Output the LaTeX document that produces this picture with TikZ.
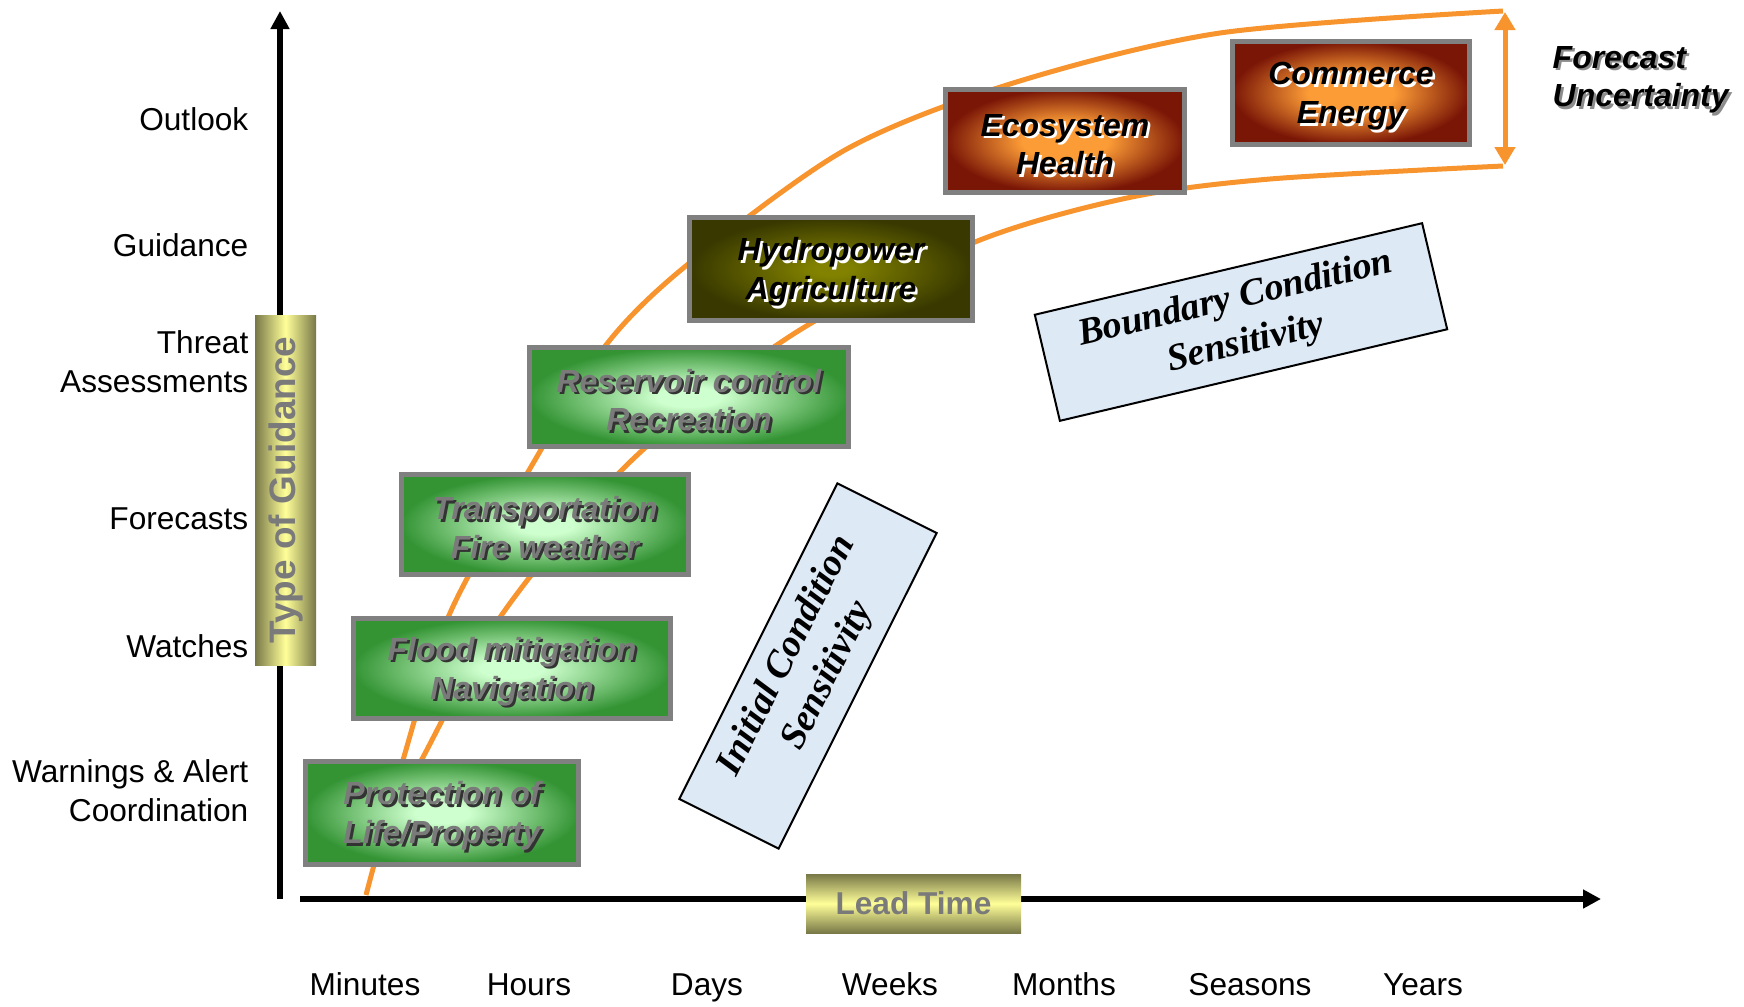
\documentclass[tikz,border=0pt]{standalone}
\usepackage{fontspec}
\setmainfont{Liberation Sans}
\newfontfamily\romanfont{Liberation Serif}
\usetikzlibrary{arrows.meta}
\usetikzlibrary{positioning}

\definecolor{curveorange}{RGB}{247,148,45}
\definecolor{framegray}{RGB}{128,128,128}
\definecolor{labelgray}{RGB}{122,122,122}
\definecolor{greenedge}{RGB}{52,148,52}
\definecolor{greencore}{RGB}{206,255,206}
\definecolor{oliveedge}{RGB}{56,56,0}
\definecolor{olivecore}{RGB}{130,130,0}
\definecolor{rustedge}{RGB}{122,22,6}
\definecolor{rustcore}{RGB}{252,156,54}
\definecolor{goldedge}{RGB}{120,120,72}
\definecolor{goldcore}{RGB}{255,255,153}
\definecolor{skyfill}{RGB}{222,233,246}

% glow from the middle out to the frame (path box = inner 50bp)
\pgfdeclareradialshading{greenglow}{\pgfpoint{0bp}{0bp}}{color(0bp)=(greencore); color(5bp)=(greencore); color(25bp)=(greenedge); color(50bp)=(greenedge)}
\pgfdeclareradialshading{oliveglow}{\pgfpoint{0bp}{0bp}}{color(0bp)=(olivecore); color(3bp)=(olivecore); color(25bp)=(oliveedge); color(50bp)=(oliveedge)}
\pgfdeclareradialshading{rustglow}{\pgfpoint{0bp}{0bp}}{color(0bp)=(rustcore); color(9bp)=(rustcore); color(25bp)=(rustedge); color(50bp)=(rustedge)}

% text with a small drop shadow
\newcommand\shadowtext[3]{\rlap{\kern0.7pt\raisebox{-0.7pt}{\textcolor{#1}{#3}}}\textcolor{#2}{#3}}
\newcommand\gtext[2]{\rule{0pt}{9pt}\shadowtext{black!80}{labelgray}{#1}\\\shadowtext{black!80}{labelgray}{#2}}
\newcommand\dtext[2]{\rule{0pt}{9pt}\shadowtext{white}{black}{#1}\\\shadowtext{white}{black}{#2}}

\tikzset{
  axislabel/.style={font=\fontsize{9}{11}\selectfont, align=right, inner sep=0pt},
  usebox/.style={draw=framegray, line width=0.5mm, inner sep=0pt, align=center,
    font=\fontsize{9.1}{11}\selectfont\bfseries\itshape},
  greenbox/.style={usebox, shading=greenglow},
  olivebox/.style={usebox, shading=oliveglow},
  rustbox/.style={usebox, shading=rustglow},
  sensbox/.style={draw=black, line width=0.2mm, fill=skyfill, align=center, inner sep=0pt,
    font=\fontsize{10.8}{13}\selectfont\romanfont\bfseries\itshape},
  curve/.style={curveorange, line width=0.5mm},
}

\begin{document}
\begin{tikzpicture}[x=0.1mm, y=-0.1mm]
\useasboundingbox (0,0) rectangle (1744,1006);

% axes
\coordinate (origin-y) at (280,899);
\coordinate (top-y) at (280,11);
\coordinate (origin-x) at (300,899);
\coordinate (end-x) at (1601,899);
\draw[line width=0.6mm, -{Triangle[length=1.8mm, width=1.8mm]}] (origin-y) -- (top-y);
\draw[line width=0.6mm, -{Triangle[length=1.8mm, width=1.8mm]}] (origin-x) -- (end-x);

% uncertainty envelope
\draw[curve] plot[smooth] coordinates {(366,895) (403,760) (450,613) (535,460) (606,345)
  (687,265) (845,150) (1010,84) (1220,33) (1503,11)};
\draw[curve] plot[smooth] coordinates {(400,800) (422,759) (503,613) (632,460) (795,333)
  (975,242) (1127,198) (1270,179) (1503,166)};
\coordinate (unc-top) at (1505,12);
\coordinate (unc-bot) at (1505,165);
\draw[curveorange, line width=0.5mm, {Triangle[length=1.8mm, width=2mm]}-{Triangle[length=1.8mm, width=2mm]}] (unc-top) -- (unc-bot);
\node[anchor=west, align=left, inner sep=0pt, font=\fontsize{9.1}{11}\selectfont\bfseries\itshape] (unc) at (1552,81)
  {\shadowtext{black!45}{black}{Forecast}\\\shadowtext{black!45}{black}{Uncertainty}};

% type of guidance
\foreach \lab/\ypos [count=\i] in {{Outlook}/119, {Guidance}/245, {Threat\\Assessments}/362,
  {Forecasts}/519, {Watches}/646, {Warnings \& Alert\\Coordination}/791}
  \node[axislabel, anchor=east] (guide\i) at (249,\ypos) {\lab};
\node[draw=none, left color=goldedge, right color=goldedge, middle color=goldcore,
  minimum width=6.1mm, minimum height=35mm, inner sep=0pt] (tog) at (285.5,490)
  {\rotatebox{90}{\fontsize{10.5}{12}\selectfont\bfseries\textcolor{labelgray}{Type of Guidance}}};

% lead time
\foreach \lab/\xpos [count=\i] in {Minutes/365, Hours/529, Days/707, Weeks/890,
  Months/1064, Seasons/1250, Years/1423}
  \node[axislabel, anchor=base] (lead\i) at (\xpos,995) {\lab};
\node[draw=none, top color=goldedge, bottom color=goldedge, middle color=goldcore,
  minimum width=21.5mm, minimum height=5.9mm, inner sep=0pt,
  font=\fontsize{9}{11}\selectfont\bfseries] (leadtime) at (913.5,903.5)
  {\textcolor{labelgray}{Lead Time}};

% user sectors
\node[greenbox, minimum width=27.3mm, minimum height=10.3mm] (life) at (442,813)
  {\gtext{Protection of}{Life/Property}};
\node[greenbox, minimum width=31.7mm, minimum height=10mm] (flood) at (512,668.5)
  {\gtext{Flood mitigation}{Navigation}};
\node[greenbox, minimum width=28.7mm, minimum height=10mm] (transport) at (545,524.5)
  {\gtext{Transportation}{Fire weather}};
\node[greenbox, minimum width=31.9mm, minimum height=9.9mm] (reservoir) at (689,397)
  {\gtext{Reservoir control}{Recreation}};
\node[olivebox, minimum width=28.3mm, minimum height=10.3mm] (hydro) at (831,269)
  {\dtext{Hydropower}{Agriculture}};
\node[rustbox, minimum width=23.9mm, minimum height=10.3mm] (eco) at (1065,141)
  {\dtext{Ecosystem}{Health}};
\node[rustbox, minimum width=23.7mm, minimum height=10.3mm] (commerce) at (1351,93)
  {\dtext{Commerce}{Energy}};

% sensitivity regions
\node[sensbox, rotate=63.4, minimum width=35.3mm, minimum height=11.1mm] (ics) at (808,666)
  {Initial Condition\\Sensitivity};
\node[sensbox, rotate=13.3, minimum width=39.8mm, minimum height=10.9mm] (bcs) at (1241,322)
  {Boundary Condition\\Sensitivity};
\end{tikzpicture}
\end{document}
